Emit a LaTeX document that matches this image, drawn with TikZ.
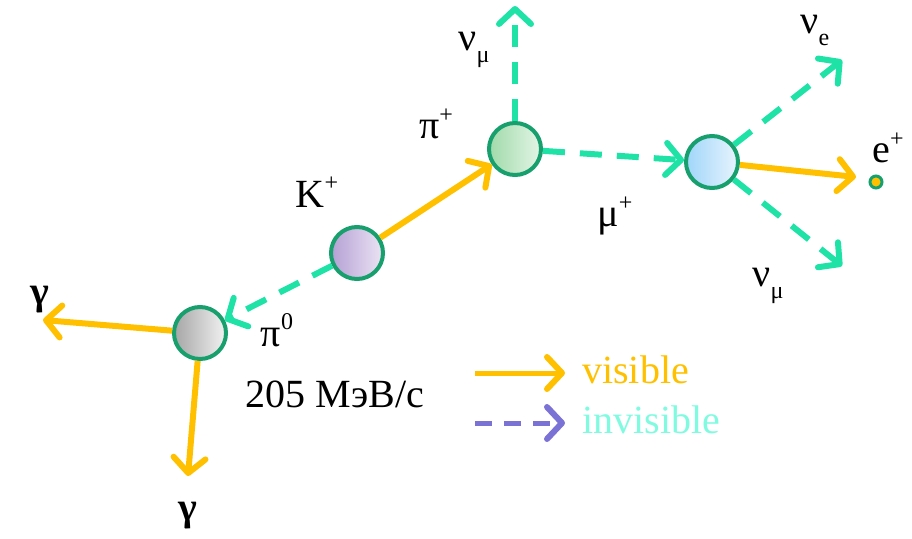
\documentclass[tikz,border=0pt]{standalone}
\usepackage{fontspec}
\setmainfont{Liberation Serif}
\usetikzlibrary{arrows.meta}
\definecolor{vis}{HTML}{FFC000}
\definecolor{inv}{HTML}{1FE2A6}
\definecolor{rim}{HTML}{17A06E}
\definecolor{legendinv}{HTML}{7B72D6}
\definecolor{invtext}{HTML}{80FBE0}
\newcommand{\upidx}[1]{\raisebox{0.42em}{\fontsize{24}{24}\selectfont #1}}
\newcommand{\dnidx}[1]{\raisebox{-0.3em}{\fontsize{24}{24}\selectfont #1}}
\tikzset{
  particle/.style={circle, draw=rim, line width=4pt, minimum size=52pt, inner sep=0pt},
  head/.style={-{Straight Barb[length=15pt,width=32pt,line width=6pt,round]}},
  visarrow/.style={head, draw=vis, line width=6pt, line cap=butt},
  invarrow/.style={head, draw=inv, line width=6pt, dash pattern=on 22pt off 15pt},
  lbl/.style={font=\fontsize{40}{46}\selectfont, inner sep=0pt},
}
\begin{document}
\begin{tikzpicture}[x=1pt,y=-1pt]
\useasboundingbox (0,0) rectangle (912,538);
% particles
\node[particle, left color=black!35, right color=black!5] (pi0) at (200,333) {};
\node[particle, left color={rgb,255:red,180;green,160;blue,212}, right color={rgb,255:red,236;green,228;blue,244}] (K) at (357,253) {};
\node[particle, left color={rgb,255:red,160;green,218;blue,170}, right color={rgb,255:red,228;green,245;blue,230}] (pip) at (515,149) {};
\node[particle, left color={rgb,255:red,160;green,214;blue,250}, right color={rgb,255:red,232;green,244;blue,253}] (mu) at (712,162) {};
\node[circle, draw=rim, fill=vis, line width=3pt, minimum size=12pt, inner sep=0pt] (ep) at (876,182) {};
% free ends
\coordinate (g1) at (43,320);
\coordinate (g2) at (188,476);
\coordinate (nm1) at (515,6);
\coordinate (ne) at (842,60);
\coordinate (et) at (856,177);
\coordinate (nm2) at (842,266);
% connectors
\draw[visarrow] (K) -- (pip);
\draw[invarrow] (K) -- (pi0);
\draw[visarrow] (pi0) -- (g1);
\draw[visarrow] (pi0) -- (g2);
\draw[invarrow] (pip) -- (nm1);
\draw[invarrow] (pip) -- (mu);
\draw[invarrow] (mu) -- (ne);
\draw[visarrow] (mu) -- (et);
\draw[invarrow] (mu) -- (nm2);
% labels
\node[lbl] (lK) at (317,192) {K\upidx{+}};
\node[lbl] (lpip) at (436,124) {π\upidx{+}};
\node[lbl] (lnm1) at (474,50) {ν\dnidx{μ}};
\node[lbl] (lne) at (815,30) {ν\dnidx{e}};
\node[lbl] (lep) at (888,148) {e\upidx{+}};
\node[lbl] (lmu) at (615,216) {μ\upidx{+}};
\node[lbl] (lnm2) at (768,286) {ν\dnidx{μ}};
\node[lbl] (lpi0) at (277,330) {π\upidx{0}};
\node[lbl] (lg1) at (40,300) {\textbf{γ}};
\node[lbl] (lg2) at (188,516) {\textbf{γ}};
\node[lbl] (mom) at (335,394) {205 МэВ/с};
% legend
\coordinate (la1) at (475,373);
\coordinate (lb1) at (565,373);
\coordinate (la2) at (475,423);
\coordinate (lb2) at (565,423);
\draw[head, draw=vis, line width=5pt] (la1) -- (lb1);
\draw[head, draw=legendinv, line width=5pt, dash pattern=on 17pt off 12pt] (la2) -- (lb2);
\node[lbl, anchor=west, text=vis] (tvis) at (582,370) {visible};
\node[lbl, anchor=west, text=invtext] (tinv) at (582,420) {invisible};
\end{tikzpicture}
\end{document}
